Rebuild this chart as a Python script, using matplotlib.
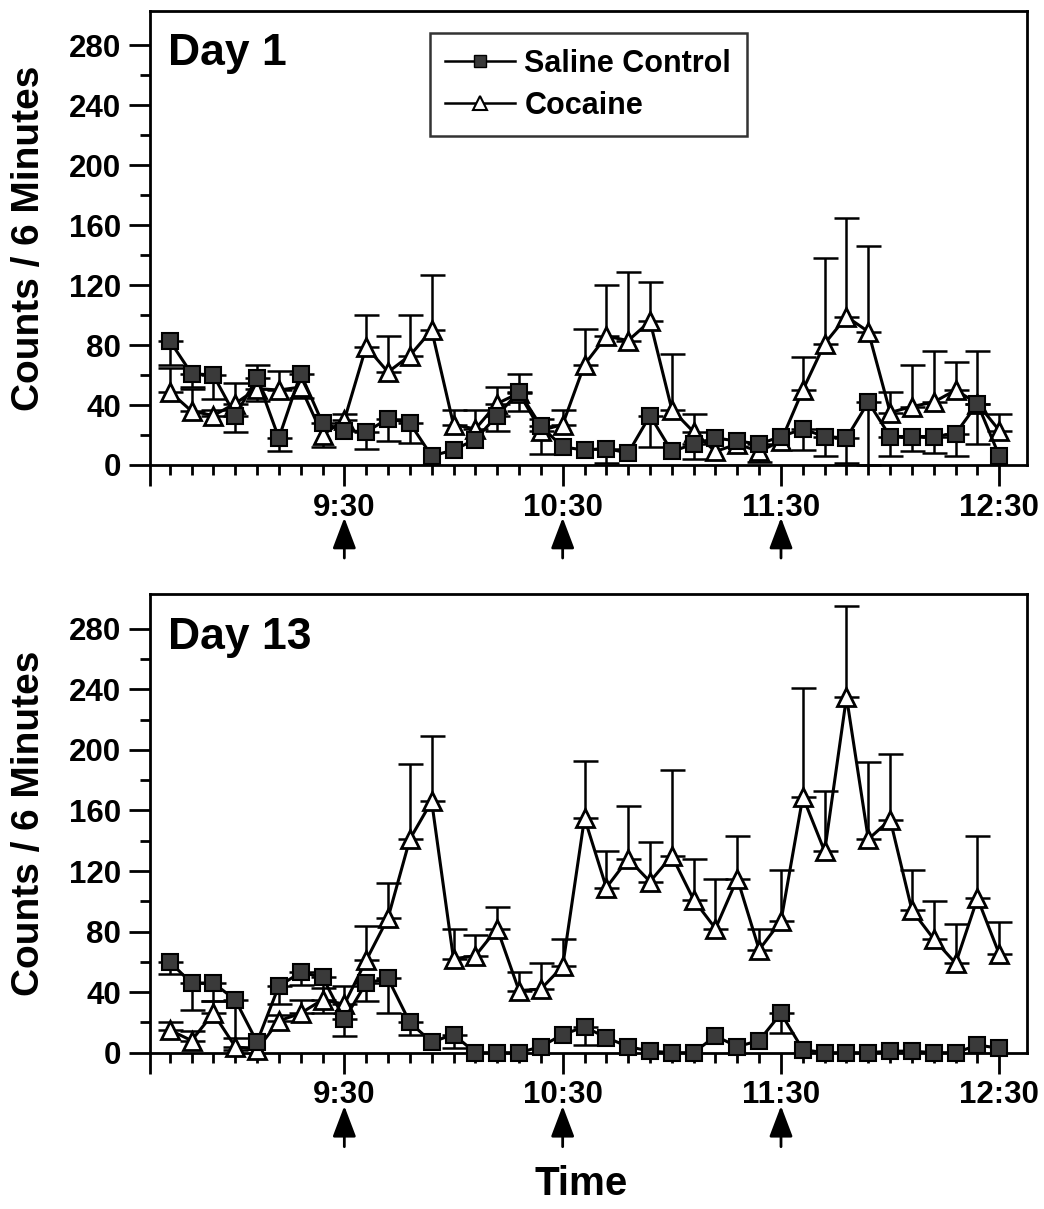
import numpy as np
import matplotlib
matplotlib.use("Agg")
import matplotlib.pyplot as plt
from matplotlib.lines import Line2D

plt.rcParams['font.family'] = ['Liberation Sans', 'DejaVu Sans']
plt.rcParams['font.weight'] = 'bold'

# time bins (6 minute intervals)
times = ["8:42", "8:48", "8:54", "9:00", "9:06", "9:12", "9:18", "9:24", "9:30",
         "9:36", "9:42", "9:48", "9:54", "10:00", "10:06", "10:12", "10:18", "10:24",
         "10:30", "10:36", "10:42", "10:48", "10:54", "11:00", "11:06", "11:12",
         "11:18", "11:24", "11:30", "11:36", "11:42", "11:48", "11:54", "12:00",
         "12:06", "12:12", "12:18", "12:24", "12:30"]
injections = ["9:30", "10:30", "11:30"]
hour_labels = ["9:30", "10:30", "11:30", "12:30"]

# Day 1
saline_d1 = [83, 61, 60, 33, 58, 18, 61, 28, 23, 22, 31, 28, 6, 10, 17, 33, 49, 26, 12,
             10, 11, 8, 33, 9, 14, 18, 16, 14, 19, 24, 19, 18, 42, 19, 19, 19, 21, 41, 6]
saline_d1_err = [16, 9, 16, 11, 15, 9, 16, 16, 0, 11, 15, 13, 0, 0, 0, 10, 13, 19, 0,
                 0, 10, 0, 21, 0, 10, 0, 0, 12, 0, 14, 13, 17, 42, 13, 10, 11, 15, 27, 0]
cocaine_d1 = [49, 36, 33, 41, 51, 50, 52, 20, 30, 79, 62, 73, 90, 27, 24, 41, 48, 23, 27,
              67, 86, 83, 96, 37, 22, 9, 14, 9, 16, 50, 81, 99, 89, 35, 39, 42, 50, 41, 23]
cocaine_d1_err = [16, 15, 4, 14, 16, 13, 0, 0, 4, 21, 24, 27, 37, 10, 13, 11, 13, 8, 10,
                  24, 34, 46, 26, 37, 12, 0, 0, 0, 0, 22, 57, 66, 57, 14, 28, 34, 19, 35, 11]

# Day 13
saline_d13 = [60, 46, 46, 35, 7, 44, 53, 50, 22, 46, 49, 20, 7, 12, 0, 0, 0, 4, 12,
              17, 10, 4, 1, 0, 0, 11, 4, 8, 26, 2, 0, 0, 0, 1, 1, 0, 0, 5, 3]
saline_d13_err = [8, 18, 12, 33, 0, 12, 8, 24, 11, 12, 23, 8, 0, 9, 0, 0, 0, 0, 0,
                  12, 0, 0, 0, 0, 0, 0, 0, 0, 13, 0, 0, 0, 0, 0, 0, 0, 0, 0, 0]
cocaine_d13 = [15, 8, 26, 4, 2, 21, 26, 35, 32, 61, 89, 141, 166, 62, 64, 82, 41, 42, 57,
               155, 109, 128, 113, 130, 101, 82, 115, 68, 87, 169, 133, 235, 141, 154,
               94, 75, 59, 102, 65]
cocaine_d13_err = [5, 6, 8, 6, 0, 4, 9, 8, 12, 23, 23, 50, 43, 20, 14, 14, 12, 17, 18,
                   38, 24, 35, 26, 57, 27, 33, 28, 14, 34, 72, 40, 60, 51, 43, 27, 25,
                   26, 41, 21]


def to_min(s):
    h, m = s.split(":")
    return int(h) * 60 + int(m)


x = np.array([to_min(t) for t in times])
sq_face = '#3a3a3a'

fig = plt.figure(figsize=(10.44, 12.09), dpi=100)
ax1 = fig.add_axes([0.1437, 0.6154, 0.8400, 0.3755])
ax2 = fig.add_axes([0.1437, 0.1293, 0.8400, 0.3794])

panels = [(ax1, "Day 1", saline_d1, saline_d1_err, cocaine_d1, cocaine_d1_err),
          (ax2, "Day 13", saline_d13, saline_d13_err, cocaine_d13, cocaine_d13_err)]

for ax, title, sal, sal_err, coc, coc_err in panels:
    sal = np.array(sal)
    coc = np.array(coc)
    sal_err = np.array(sal_err)
    coc_err = np.array(coc_err)

    # saline bars point down, cocaine bars point up (only where there is one)
    m = sal_err > 0
    ax.errorbar(x[m], sal[m], yerr=[sal_err[m], np.zeros(m.sum())], fmt='none',
                ecolor='black', elinewidth=1.8, capsize=9, capthick=1.8, zorder=2,
                clip_on=False)
    m = coc_err > 0
    ax.errorbar(x[m], coc[m], yerr=[np.zeros(m.sum()), coc_err[m]], fmt='none',
                ecolor='black', elinewidth=1.8, capsize=9, capthick=1.8, zorder=2,
                clip_on=False)
    ax.plot(x, coc, color='black', lw=2.2, marker='^', ms=12.5, mfc='white',
            mec='black', mew=2, zorder=3, clip_on=False)
    ax.plot(x, sal, color='black', lw=2.2, marker='s', ms=11, mfc=sq_face,
            mec='black', mew=1.5, zorder=4, clip_on=False)

    ax.set_xlim(516.6, 757.6)
    ax.set_ylim(0, 303)
    ax.set_yticks(np.arange(0, 281, 40))
    ax.set_yticks(np.arange(20, 281, 40), minor=True)
    ax.set_xticks([516.6] + [to_min(h) for h in hour_labels])
    ax.set_xticklabels([""] + hour_labels)
    ax.set_xticks([t for t in x if t not in [to_min(h) for h in hour_labels]], minor=True)
    ax.tick_params(axis='both', which='major', length=15, width=2, labelsize=22.5, pad=6)
    ax.tick_params(axis='x', which='major', pad=5)
    ax.tick_params(axis='both', which='minor', length=7, width=2)
    for sp in ax.spines.values():
        sp.set_linewidth(2)
    ax.set_ylabel("Counts / 6 Minutes", fontsize=28, fontweight='bold')
    ax.yaxis.set_label_coords(-0.118, 0.5)
    ax.text(0.021, 0.881, title, transform=ax.transAxes, fontsize=32,
            fontweight='bold', va='baseline', ha='left')

    # injection arrows
    for inj in injections:
        ax.annotate("", xy=(to_min(inj), -0.116), xytext=(to_min(inj), -0.205),
                    xycoords=ax.get_xaxis_transform(),
                    textcoords=ax.get_xaxis_transform(),
                    arrowprops=dict(arrowstyle='-|>,head_length=0.95,head_width=0.36',
                                    mutation_scale=20, color='black', lw=2,
                                    shrinkA=0, shrinkB=0))

handles = [Line2D([], [], color='black', lw=1.8, marker='s', ms=9, mfc=sq_face,
                  mec='black'),
           Line2D([], [], color='black', lw=1.8, marker='^', ms=10, mfc='white',
                  mec='black', mew=1.5)]
leg = ax1.legend(handles, ["Saline Control", "Cocaine"], loc='upper left',
                 bbox_to_anchor=(0.319, 0.951), fontsize=22, frameon=True,
                 fancybox=False, handlelength=2.3, handletextpad=0.3,
                 borderpad=0.5, labelspacing=0.4, borderaxespad=0)
leg.get_frame().set_edgecolor('black')
leg.get_frame().set_linewidth(1.8)

fig.text(0.557, 0.005, "Time", fontsize=29, fontweight='bold', ha='center',
         va='bottom')

fig.savefig("out.png", dpi=100)
